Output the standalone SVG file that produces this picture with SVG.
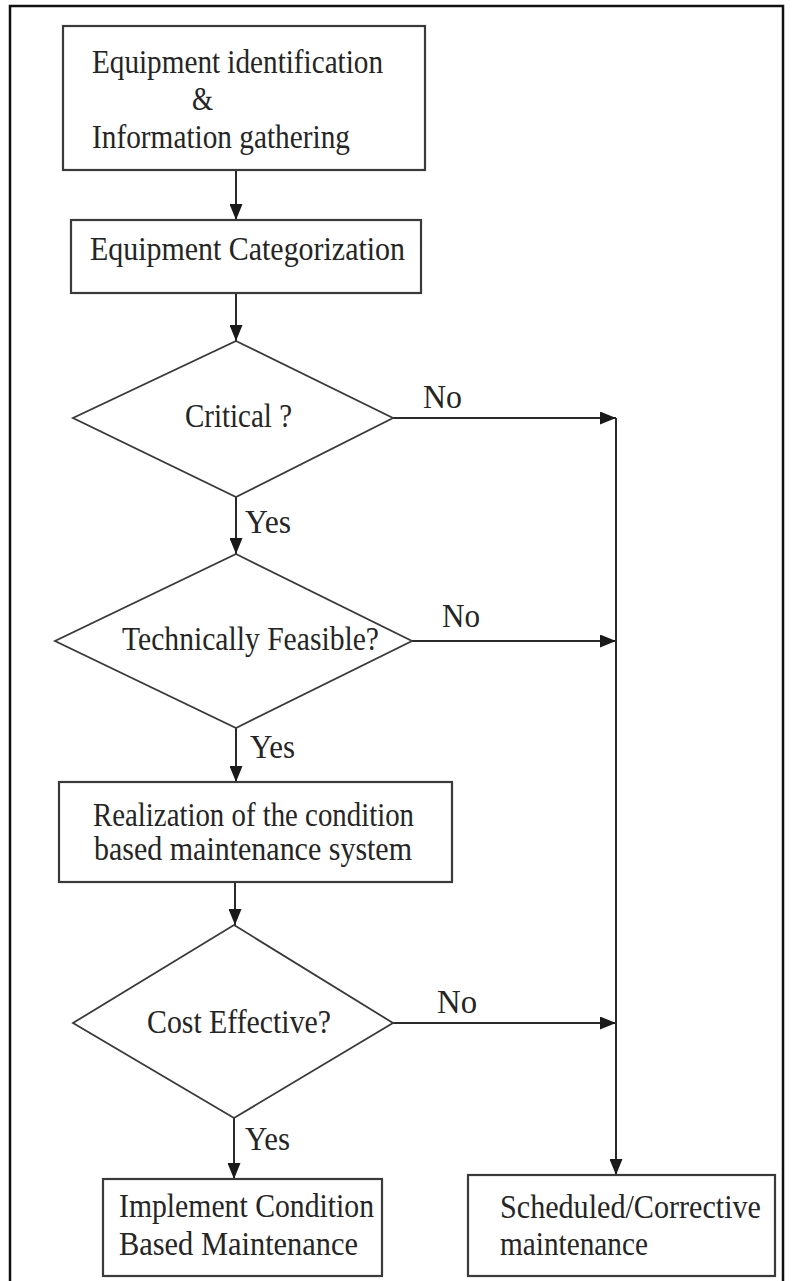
<svg xmlns="http://www.w3.org/2000/svg" width="793" height="1281" viewBox="0 0 793 1281">
  <defs>
    <marker id="arrow" viewBox="0 0 16 13" refX="16" refY="6.5" markerWidth="16" markerHeight="13" markerUnits="userSpaceOnUse" orient="auto">
      <path d="M0,0 L16,6.5 L0,13 z" fill="#1a1a1a"/>
    </marker>
    <style>
      .frame { fill: none; stroke: #111; stroke-width: 2.5; }
      .box { fill: #fff; stroke: #3a3a3a; stroke-width: 2.2; }
      .dec { fill: #fff; stroke: #3a3a3a; stroke-width: 1.8; }
      .flow { fill: none; stroke: #2a2a2a; stroke-width: 2; marker-end: url(#arrow); }
      text { font-family: "Liberation Serif", "Times New Roman", serif; font-size: 33px; fill: #252525; }
    </style>
  </defs>

  <rect width="793" height="1281" fill="#fff"/>
  <!-- outer frame, open at the bottom edge -->
  <rect class="frame" x="10" y="6" width="773" height="1290"/>

  <!-- connectors and their branch labels -->
  <g id="connectors">
    <line class="flow" x1="236" y1="170" x2="236" y2="220"/>
    <line class="flow" x1="236" y1="293" x2="236" y2="341"/>
    <line class="flow" x1="236" y1="497" x2="236" y2="554"/>
    <line class="flow" x1="236" y1="728" x2="236" y2="782"/>
    <line class="flow" x1="235" y1="882" x2="235" y2="925"/>
    <line class="flow" x1="234" y1="1118" x2="234" y2="1179"/>
    <line class="flow" x1="393" y1="418" x2="616" y2="418"/>
    <line class="flow" x1="412" y1="641" x2="616" y2="641"/>
    <line class="flow" x1="393" y1="1023" x2="616" y2="1023"/>
    <line class="flow" x1="616" y1="418" x2="616" y2="1175"/>
    <text x="423" y="408" textLength="39" lengthAdjust="spacingAndGlyphs">No</text>
    <text x="442" y="627" textLength="38" lengthAdjust="spacingAndGlyphs">No</text>
    <text x="437" y="1013" textLength="40" lengthAdjust="spacingAndGlyphs">No</text>
    <text x="245" y="533" textLength="46" lengthAdjust="spacingAndGlyphs">Yes</text>
    <text x="250" y="758" textLength="45" lengthAdjust="spacingAndGlyphs">Yes</text>
    <text x="245" y="1150" textLength="45" lengthAdjust="spacingAndGlyphs">Yes</text>
  </g>

  <g id="identification">
    <rect class="box" x="63" y="26" width="362" height="144"/>
    <text x="92" y="73" textLength="291" lengthAdjust="spacingAndGlyphs">Equipment identification</text>
    <text x="192" y="110" textLength="21" lengthAdjust="spacingAndGlyphs">&amp;</text>
    <text x="92" y="148" textLength="258" lengthAdjust="spacingAndGlyphs">Information gathering</text>
  </g>

  <g id="categorization">
    <rect class="box" x="71" y="220" width="350" height="73"/>
    <text x="90" y="260" textLength="315" lengthAdjust="spacingAndGlyphs">Equipment Categorization</text>
  </g>

  <g id="critical">
    <polygon class="dec" points="236,341 393,418 236,497 73,418"/>
    <text x="185" y="427" textLength="107" lengthAdjust="spacingAndGlyphs">Critical ?</text>
  </g>

  <g id="feasible">
    <polygon class="dec" points="236,554 412,641 236,728 55,641"/>
    <text x="122" y="650" textLength="257" lengthAdjust="spacingAndGlyphs">Technically Feasible?</text>
  </g>

  <g id="realization">
    <rect class="box" x="59" y="782" width="393" height="100"/>
    <text x="93" y="826" textLength="321" lengthAdjust="spacingAndGlyphs">Realization of the condition</text>
    <text x="94" y="860" textLength="318" lengthAdjust="spacingAndGlyphs">based maintenance system</text>
  </g>

  <g id="cost">
    <polygon class="dec" points="234,925 393,1023 234,1118 73,1023"/>
    <text x="147" y="1033" textLength="184" lengthAdjust="spacingAndGlyphs">Cost Effective?</text>
  </g>

  <g id="implement">
    <rect class="box" x="103" y="1179" width="279" height="97"/>
    <text x="119" y="1217" textLength="255" lengthAdjust="spacingAndGlyphs">Implement Condition</text>
    <text x="119" y="1255" textLength="239" lengthAdjust="spacingAndGlyphs">Based Maintenance</text>
  </g>

  <g id="scheduled">
    <rect class="box" x="468" y="1175" width="307" height="101"/>
    <text x="500" y="1218" textLength="261" lengthAdjust="spacingAndGlyphs">Scheduled/Corrective</text>
    <text x="500" y="1255" textLength="148" lengthAdjust="spacingAndGlyphs">maintenance</text>
  </g>
</svg>
